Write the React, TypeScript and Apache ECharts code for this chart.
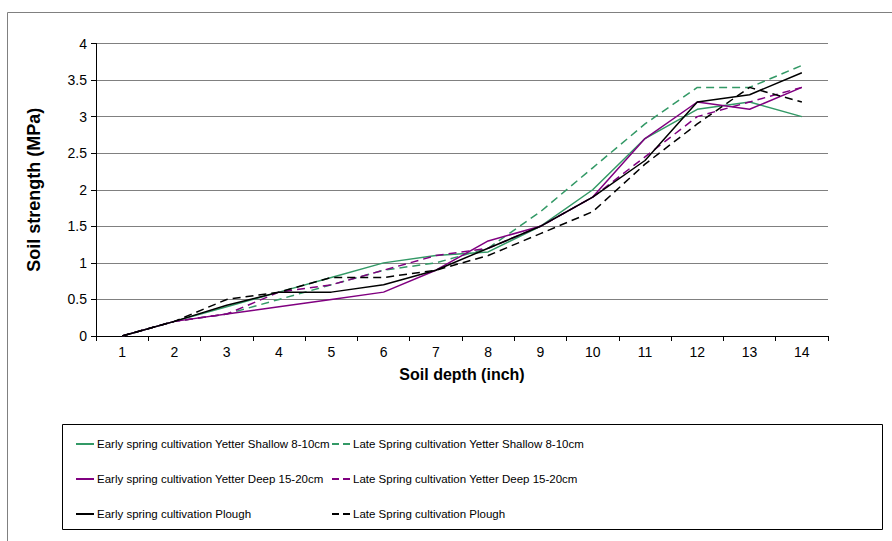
import React, { useEffect, useRef } from "react";
import * as echarts from "echarts";

const depths = ["1", "2", "3", "4", "5", "6", "7", "8", "9", "10", "11", "12", "13", "14"];

const earlyShallow = [0, 0.2, 0.4, 0.6, 0.8, 1.0, 1.1, 1.15, 1.5, 2.0, 2.7, 3.1, 3.2, 3.0];
const lateShallow = [0, 0.2, 0.3, 0.5, 0.7, 0.9, 1.0, 1.2, 1.7, 2.3, 2.9, 3.4, 3.4, 3.7];
const earlyDeep = [0, 0.2, 0.3, 0.4, 0.5, 0.6, 0.9, 1.3, 1.5, 1.9, 2.7, 3.2, 3.1, 3.4];
const lateDeep = [0, 0.2, 0.3, 0.6, 0.7, 0.9, 1.1, 1.2, 1.5, 1.9, 2.45, 3.0, 3.2, 3.4];
const earlyPlough = [0, 0.2, 0.42, 0.6, 0.6, 0.7, 0.9, 1.2, 1.5, 1.9, 2.4, 3.2, 3.3, 3.6];
const latePlough = [0, 0.2, 0.5, 0.6, 0.8, 0.8, 0.9, 1.1, 1.4, 1.7, 2.35, 2.9, 3.4, 3.2];

const names = [
  "Early spring cultivation Yetter Shallow 8-10cm",
  "Late Spring cultivation Yetter Shallow 8-10cm",
  "Early spring cultivation Yetter Deep 15-20cm",
  "Late Spring cultivation Yetter Deep 15-20cm",
  "Early spring cultivation Plough",
  "Late Spring cultivation Plough",
];

const GREEN = "#339966";
const PURPLE = "#800080";
const BLACK = "#000000";
const FONT = "Liberation Sans, Arial, sans-serif";

const SOLID_ICON = "path://M0,0H18V2H0Z";
const DASH_ICON = "path://M0,0H7V2H0Z M11,0H18V2H11Z";

export default function App() {
  const ref = useRef<HTMLDivElement>(null);
  useEffect(() => {
    if (!ref.current) return;
    const chart = echarts.init(ref.current, undefined, { renderer: "svg" });
    const mk = (name: string, data: number[], color: string, dashed: boolean) => ({
      name,
      type: "line",
      data,
      symbol: "none",
      showSymbol: false,
      lineStyle: { color, width: 1.5, type: dashed ? [8, 5] : "solid" },
      itemStyle: { color },
    });
    const legendBase = {
      orient: "vertical",
      top: 437,
      padding: 0,
      itemWidth: 18,
      itemHeight: 2,
      itemGap: 21,
      symbolKeepAspect: false,
      selectedMode: false,
      textStyle: {
        color: "#000",
        fontSize: 11.5,
        lineHeight: 14,
        fontFamily: FONT,
        padding: [0, 0, 0, -2],
      },
    };
    chart.setOption({
      animation: false,
      textStyle: { fontFamily: FONT },
      grid: { left: 96, right: 64, top: 43.5, bottom: 205, containLabel: false },
      xAxis: {
        type: "category",
        data: depths,
        boundaryGap: true,
        name: "Soil depth (inch)",
        nameLocation: "middle",
        nameGap: 30,
        nameTextStyle: { fontWeight: "bold", fontSize: 16, color: "#000", fontFamily: FONT },
        axisLine: { lineStyle: { color: "#000", width: 1 } },
        axisTick: { show: true, alignWithLabel: false, length: 5, lineStyle: { color: "#000" } },
        axisLabel: { color: "#000", fontSize: 14, margin: 9, fontFamily: FONT },
        splitLine: { show: false },
      },
      yAxis: {
        type: "value",
        min: 0,
        max: 4,
        interval: 0.5,
        name: "Soil strength (MPa)",
        nameLocation: "middle",
        nameGap: 53,
        nameRotate: 90,
        nameTextStyle: { fontWeight: "bold", fontSize: 18, color: "#000", fontFamily: FONT },
        axisLine: { show: true, lineStyle: { color: "#000", width: 1 } },
        axisTick: { show: true, length: 5, lineStyle: { color: "#000" } },
        axisLabel: { color: "#000", fontSize: 14, margin: 9, fontFamily: FONT },
        splitLine: { show: true, lineStyle: { color: "#808080", width: 1 } },
      },
      legend: [
        {
          ...legendBase,
          left: 76,
          data: [
            { name: names[0], icon: SOLID_ICON },
            { name: names[2], icon: SOLID_ICON },
            { name: names[4], icon: SOLID_ICON },
          ],
        },
        {
          ...legendBase,
          left: 332,
          data: [
            { name: names[1], icon: DASH_ICON },
            { name: names[3], icon: DASH_ICON },
            { name: names[5], icon: DASH_ICON },
          ],
        },
      ],
      graphic: [
        {
          type: "polyline",
          silent: true,
          shape: { points: [[7.5, 541], [7.5, 12.5], [892, 12.5]] },
          style: { stroke: "#808080", lineWidth: 1, fill: null },
        },
        {
          type: "rect",
          silent: true,
          shape: { x: 62.5, y: 424.5, width: 820, height: 105 },
          style: { stroke: "#000", lineWidth: 1, fill: null },
        },
      ],
      series: [
        mk(names[0], earlyShallow, GREEN, false),
        mk(names[1], lateShallow, GREEN, true),
        mk(names[2], earlyDeep, PURPLE, false),
        mk(names[3], lateDeep, PURPLE, true),
        mk(names[4], earlyPlough, BLACK, false),
        mk(names[5], latePlough, BLACK, true),
      ],
    });
    return () => chart.dispose();
  }, []);
  return (
    <div
      ref={ref}
      style={{ position: "absolute", left: 0, top: 0, width: 892, height: 541, background: "#fff" }}
    />
  );
}
